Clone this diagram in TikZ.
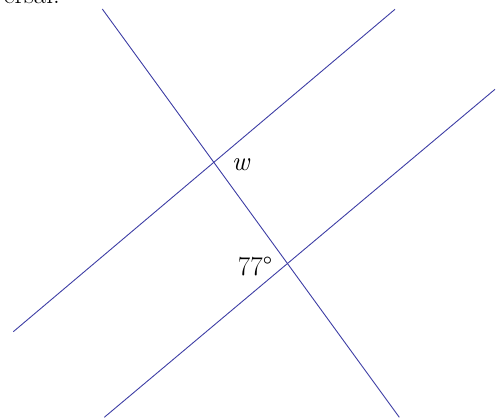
\documentclass[tikz,border=0pt]{standalone}
\usepackage{fontspec}
\usetikzlibrary{calc}
\definecolor{lineblue}{RGB}{62,62,165}
\tikzset{
  pline/.style ={draw=lineblue, line width=0.9pt},
  lbl/.style   ={font=\fontsize{27}{32}\selectfont, inner sep=0pt},
}

\begin{document}
\begin{tikzpicture}[x=1pt,y=-1pt]
  \useasboundingbox (0,0) rectangle (496,419);
  \clip (0,0) rectangle (496,419);
  % caption line, cut off at the top edge
  \node[lbl, anchor=base east] (cap) at (60,4) {transversal.};

  % transversal
  \coordinate (tA) at (102.3,9);
  \coordinate (tB) at (399.3,417.3);
  % the two parallel lines
  \coordinate (pA) at (13.3,331.7);
  \coordinate (pB) at (395,9.3);
  \coordinate (qA) at (104.3,417.3);
  \coordinate (qB) at (495,89.3);

  \draw[pline] (tA) -- (tB);
  \draw[pline] (pA) -- (pB);
  \draw[pline] (qA) -- (qB);

  \node[lbl] (w)   at (241,165) {\textit{w}};
  \node[lbl] (ang) at (255,266) {77°};
\end{tikzpicture}
\end{document}
